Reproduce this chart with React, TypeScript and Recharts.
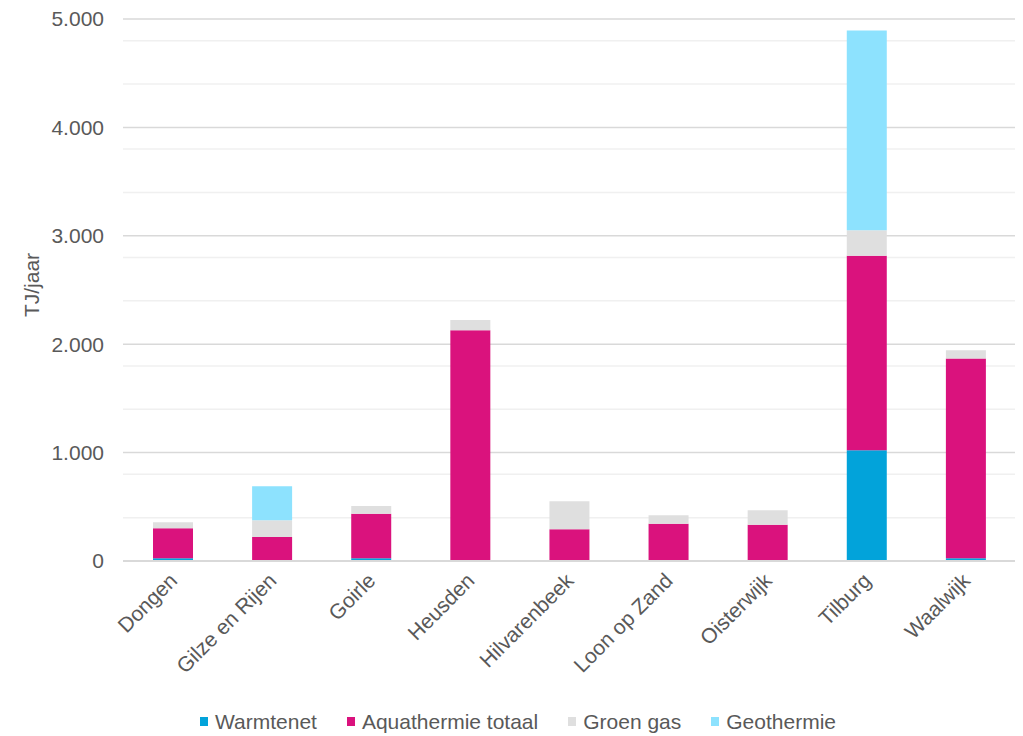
import { Bar, BarChart, CartesianGrid, Label, Legend, XAxis, YAxis } from 'recharts';

const gemeenten = [
  'Dongen',
  'Gilze en Rijen',
  'Goirle',
  'Heusden',
  'Hilvarenbeek',
  'Loon op Zand',
  'Oisterwijk',
  'Tilburg',
  'Waalwijk',
];

// TJ/jaar per gemeente
const warmtenet = [25, 0, 25, 0, 0, 0, 0, 1022, 25];
const aquathermie = [277, 222, 410, 2128, 292, 344, 335, 1795, 1842];
const groenGas = [55, 155, 72, 96, 260, 77, 133, 235, 77];
const geothermie = [0, 312, 0, 0, 0, 0, 0, 1842, 0];

const yTicks = [0, 1000, 2000, 3000, 4000, 5000];
const minorLines = [200, 400, 600, 800, 1200, 1400, 1600, 1800, 2200, 2400, 2600, 2800, 3200, 3400, 3600, 3800, 4200, 4400, 4600, 4800];

const series = [
  { key: 'warmtenet', name: 'Warmtenet', color: '#02A3DA' },
  { key: 'aquathermie', name: 'Aquathermie totaal', color: '#DA127D' },
  { key: 'groenGas', name: 'Groen gas', color: '#DFDFDF' },
  { key: 'geothermie', name: 'Geothermie', color: '#8DE2FE' },
];

const data = gemeenten.map((naam, i) => ({
  naam,
  warmtenet: warmtenet[i],
  aquathermie: aquathermie[i],
  groenGas: groenGas[i],
  geothermie: geothermie[i],
}));

const FONT = '"Liberation Sans", Arial, sans-serif';
const TEXT = '#595959';

const fmt = (v: number) => v.toLocaleString('nl-NL');

function CityTick({ x, y, payload }: any) {
  const ax = x + 6;
  const ay = y + 13;
  return (
    <text
      x={ax}
      y={ay}
      transform={`rotate(-45, ${ax}, ${ay})`}
      textAnchor="end"
      fill={TEXT}
      fontSize={21}
      fontFamily={FONT}
    >
      {payload.value}
    </text>
  );
}

function YTitle() {
  return (
    <text
      x={31}
      y={285}
      transform="rotate(-90, 31, 285)"
      textAnchor="middle"
      dominantBaseline="central"
      fill={TEXT}
      fontSize={21}
      fontFamily={FONT}
    >
      TJ/jaar
    </text>
  );
}

function LegendBox() {
  return (
    <div style={{ display: 'flex', justifyContent: 'center', alignItems: 'center', gap: 30, height: 27 }}>
      {series.map((s) => (
        <div key={s.key} style={{ display: 'flex', alignItems: 'center' }}>
          <span style={{ width: 8, height: 9, background: s.color, marginRight: 7, display: 'inline-block' }} />
          <span style={{ fontSize: 21, color: TEXT, fontFamily: FONT, lineHeight: '27px' }}>{s.name}</span>
        </div>
      ))}
    </div>
  );
}

export default function App() {
  return (
    <div style={{ position: 'absolute', left: 0, top: 0, background: '#fff' }}>
      <BarChart
        width={1023}
        height={736}
        data={data}
        margin={{ top: 19, right: 8, left: 0, bottom: 0 }}
        barSize={40}
      >
        <CartesianGrid
          horizontal
          vertical={false}
          horizontalValues={minorLines}
          stroke="#F0F0F0"
          strokeWidth={1.5}
        />
        <CartesianGrid horizontal vertical={false} stroke="#D9D9D9" strokeWidth={1.5} />
        <XAxis
          dataKey="naam"
          height={175}
          interval={0}
          tickLine={false}
          axisLine={{ stroke: '#D9D9D9', strokeWidth: 2 }}
          tick={<CityTick />}
        />
        <YAxis
          width={123}
          domain={[0, 5000]}
          ticks={yTicks}
          tickFormatter={fmt}
          tickLine={false}
          axisLine={false}
          tickMargin={13}
          tick={{ fill: TEXT, fontSize: 21, fontFamily: FONT }}
        >
          <Label content={<YTitle />} />
        </YAxis>
        <Legend
          verticalAlign="middle"
          content={<LegendBox />}
          wrapperStyle={{ top: 708, left: 0, width: 1036 }}
        />
        {series.map((s) => (
          <Bar
            key={s.key}
            dataKey={s.key}
            name={s.name}
            stackId="bron"
            fill={s.color}
            isAnimationActive={false}
          />
        ))}
      </BarChart>
    </div>
  );
}
